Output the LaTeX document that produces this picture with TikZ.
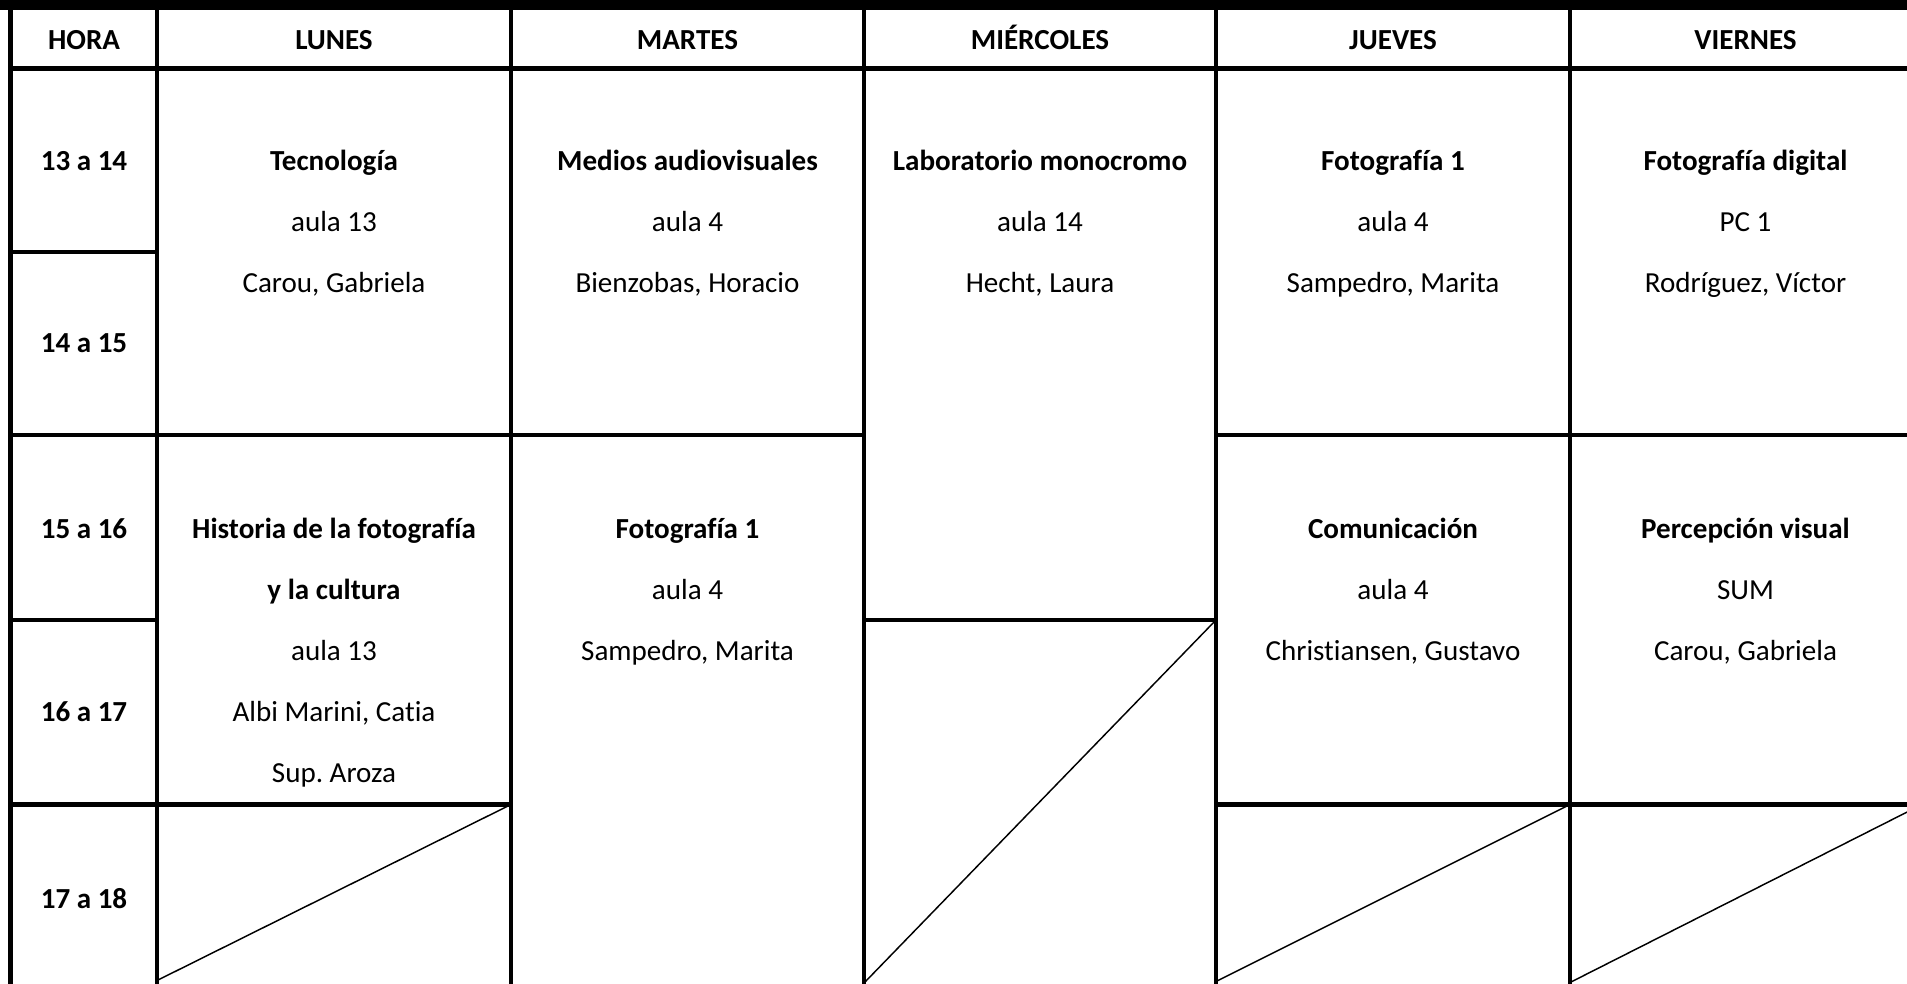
\documentclass[tikz,border=0pt]{standalone}
\usepackage{fontspec}
\setmainfont[Ligatures=NoCommon]{Carlito}
\frenchspacing
\begin{document}
\begin{tikzpicture}[x=0.75pt,y=-0.75pt,
  rule/.style={line width=3.4pt},
  diag/.style={line width=1.1pt},
  bf/.style={font=\fontsize{21.8}{26}\selectfont\bfseries, inner sep=0pt, anchor=base},
  rm/.style={font=\fontsize{21.8}{26}\selectfont, inner sep=0pt, anchor=base}]
\useasboundingbox (0,0) rectangle (1907,984);
\clip (0,0) rectangle (1907,984);
\fill[white] (0,0) rectangle (1907,984);
% top band
\fill[black] (0,0) rectangle (1907,10);
% vertical rules
\foreach \x in {10.5,157,511,864,1216,1570}
  \draw[rule] (\x,0) -- (\x,990);
% horizontal rules
\draw[rule] (8,68.5) -- (1930,68.5);
\draw[rule] (8,252) -- (157,252);
\draw[rule] (8,435) -- (864,435);
\draw[rule] (1216,435) -- (1930,435);
\draw[rule] (8,620) -- (157,620);
\draw[rule] (864,620) -- (1216,620);
\draw[rule] (8,804.5) -- (511,804.5);
\draw[rule] (1216,804.5) -- (1930,804.5);
% diagonals of empty cells
\draw[diag] (158,980) -- (510,805);
\draw[diag] (865,982) -- (1215,621);
\draw[diag] (1217,981) -- (1569,805);
\draw[diag] (1571,982) -- (1921,805);
% headers
\node[bf] (hHora) at (84,50) {HORA};
\node[bf] (hLun) at (334,50) {LUNES};
\node[bf] (hMar) at (687.5,50) {MARTES};
\node[bf] (hMie) at (1040,50) {MIÉRCOLES};
\node[bf] (hJue) at (1393,50) {JUEVES};
\node[bf] (hVie) at (1745.5,50) {VIERNES};
% hours
\node[bf] (t1) at (84,171) {13 a 14};
\node[bf] (t2) at (84,353) {14 a 15};
\node[bf] (t3) at (84,538) {15 a 16};
\node[bf] (t4) at (84,721) {16 a 17};
\node[bf] (t5) at (84,908) {17 a 18};
% block 13-15
\node[bf] (lun1a) at (334,171) {Tecnología};
\node[rm] (lun1b) at (334,232) {aula 13};
\node[rm] (lun1c) at (334,293) {Carou, Gabriela};
\node[bf] (mar1a) at (687.5,171) {Medios audiovisuales};
\node[rm] (mar1b) at (687.5,232) {aula 4};
\node[rm] (mar1c) at (687.5,293) {Bienzobas, Horacio};
\node[bf] (mie1a) at (1040,171) {Laboratorio monocromo};
\node[rm] (mie1b) at (1040,232) {aula 14};
\node[rm] (mie1c) at (1040,293) {Hecht, Laura};
\node[bf] (jue1a) at (1393,171) {Fotografía 1};
\node[rm] (jue1b) at (1393,232) {aula 4};
\node[rm] (jue1c) at (1393,293) {Sampedro, Marita};
\node[bf] (vie1a) at (1745.5,171) {Fotografía digital};
\node[rm] (vie1b) at (1745.5,232) {PC 1};
\node[rm] (vie1c) at (1745.5,293) {Rodríguez, Víctor};
% block 15-
\node[bf] (lun2a) at (334,538) {Historia de la fotografía};
\node[bf] (lun2b) at (334,599) {y la cultura};
\node[rm] (lun2c) at (334,660) {aula 13};
\node[rm] (lun2d) at (334,721) {Albi Marini, Catia};
\node[rm] (lun2e) at (334,782) {Sup.\ Aroza};
\node[bf] (mar2a) at (687.5,538) {Fotografía 1};
\node[rm] (mar2b) at (687.5,599) {aula 4};
\node[rm] (mar2c) at (687.5,660) {Sampedro, Marita};
\node[bf] (jue2a) at (1393,538) {Comunicación};
\node[rm] (jue2b) at (1393,599) {aula 4};
\node[rm] (jue2c) at (1393,660) {Christiansen, Gustavo};
\node[bf] (vie2a) at (1745.5,538) {Percepción visual};
\node[rm] (vie2b) at (1745.5,599) {SUM};
\node[rm] (vie2c) at (1745.5,660) {Carou, Gabriela};
\end{tikzpicture}
\end{document}
